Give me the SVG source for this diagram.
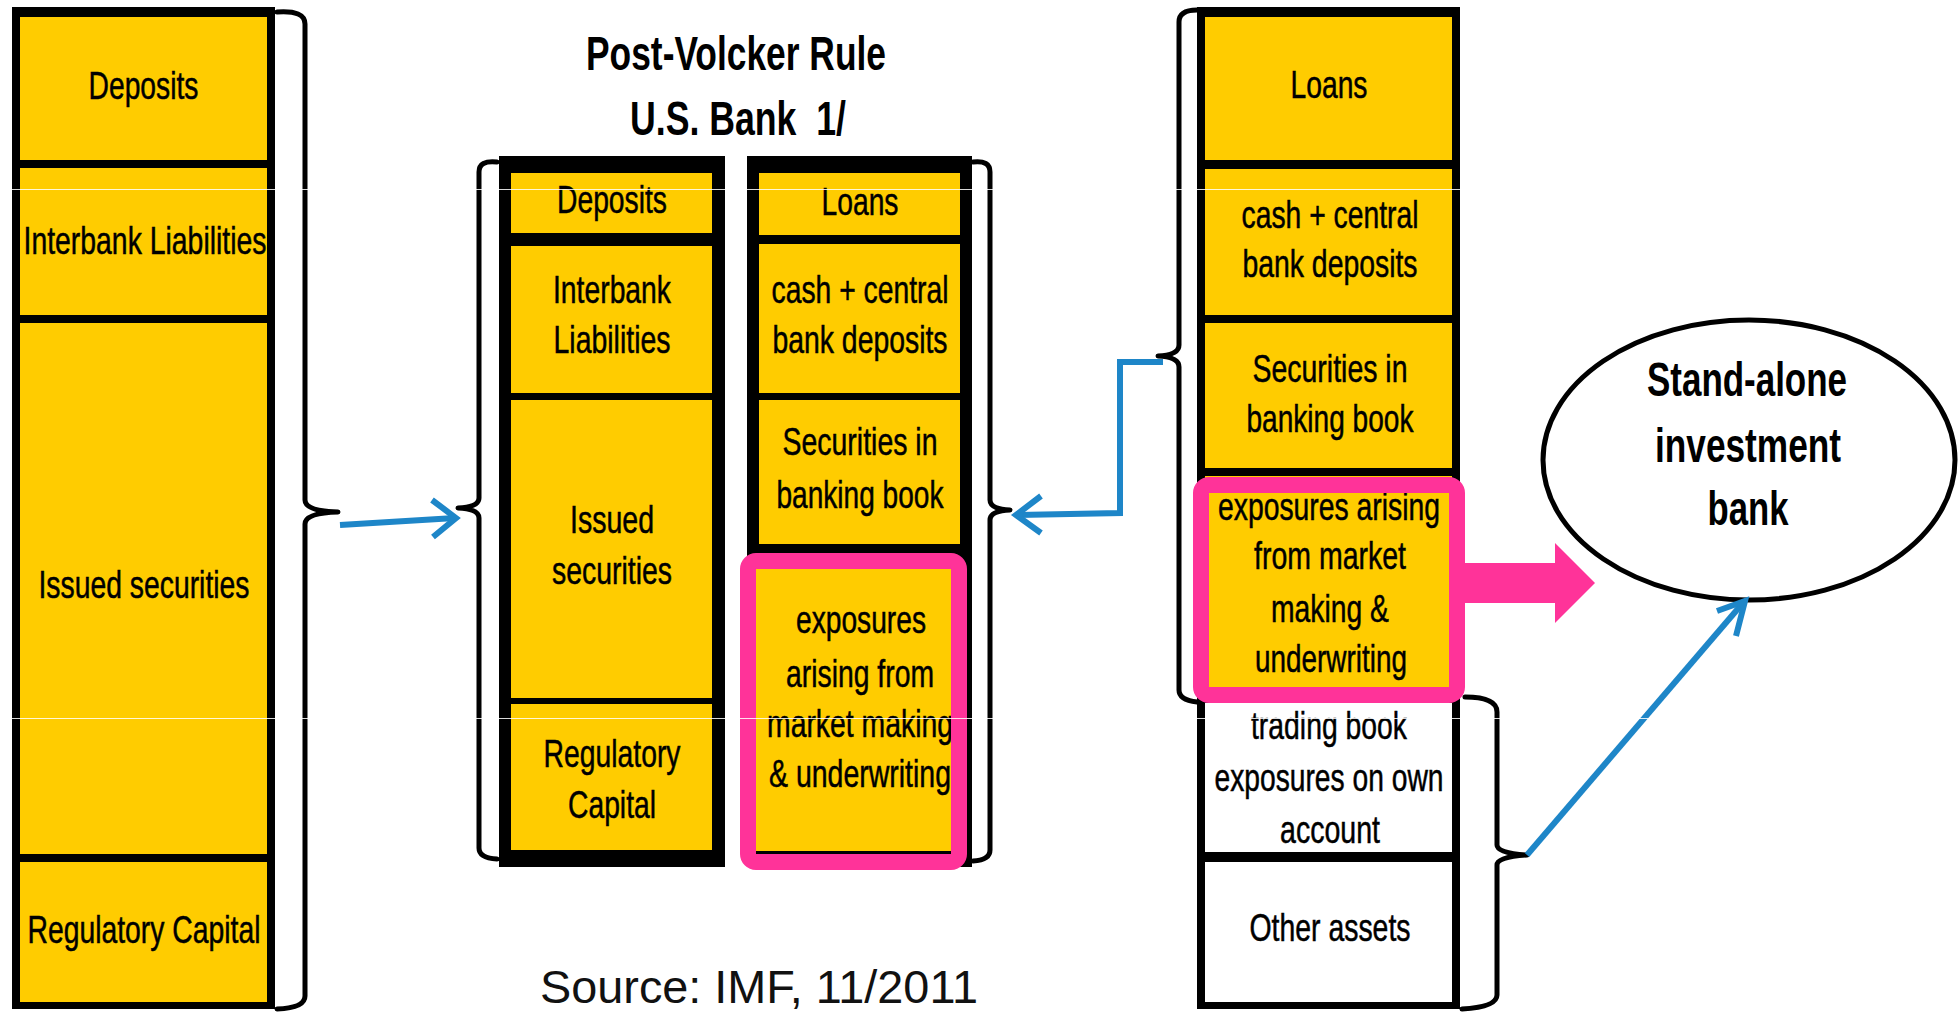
<svg xmlns="http://www.w3.org/2000/svg" width="1959" height="1012" viewBox="0 0 1959 1012">
  <style>
    .col { fill: #000; }
    .cell { fill: #ffcc00; }
    .wcell { fill: #ffffff; }
    .t { font-family: "Liberation Sans", Arial, sans-serif; font-size: 39px; fill: #000; stroke: #000; stroke-width: 0.5; text-anchor: middle; }
    .tb { font-family: "Liberation Sans", Arial, sans-serif; font-size: 48px; font-weight: bold; fill: #000; text-anchor: middle; }
    .src { font-family: "Liberation Sans", Arial, sans-serif; font-size: 46px; fill: #111; }
    .brace { fill: none; stroke: #000; stroke-width: 5; stroke-linecap: round; stroke-linejoin: round; }
    .blue { fill: none; stroke: #1e86c8; stroke-width: 6; stroke-linejoin: miter; }
    .pinkframe { fill: none; stroke: #ff3399; stroke-width: 16; }
    .seam { stroke: #ffffff; stroke-width: 1.2; opacity: 0.85; }
  </style>

  <rect width="1959" height="1012" fill="#ffffff"/>

  <!-- Pre-Volcker balance sheet: liabilities -->
  <g id="bank-liabilities">
    <rect class="col" x="12" y="7" width="263" height="1002"/>
    <rect class="cell" x="20" y="17" width="247" height="143"/>
    <rect class="cell" x="20" y="168" width="247" height="147"/>
    <rect class="cell" x="20" y="323" width="247" height="531"/>
    <rect class="cell" x="20" y="862" width="247" height="140"/>
    <text class="t" x="143.5" y="99" textLength="110" lengthAdjust="spacingAndGlyphs">Deposits</text>
    <text class="t" x="145" y="254" textLength="243" lengthAdjust="spacingAndGlyphs">Interbank Liabilities</text>
    <text class="t" x="144" y="598" textLength="211" lengthAdjust="spacingAndGlyphs">Issued securities</text>
    <text class="t" x="144" y="943" textLength="233" lengthAdjust="spacingAndGlyphs">Regulatory Capital</text>
  </g>

  <!-- Title -->
  <g id="title">
    <text class="tb" x="736" y="70" textLength="300" lengthAdjust="spacingAndGlyphs">Post-Volcker Rule</text>
    <text class="tb" x="738" y="135" textLength="216" lengthAdjust="spacingAndGlyphs">U.S. Bank&#160; 1/</text>
  </g>

  <!-- Post-Volcker bank: liabilities -->
  <g id="us-bank-liabilities">
    <rect class="col" x="499" y="156" width="226" height="711"/>
    <rect class="cell" x="511" y="173" width="201" height="60"/>
    <rect class="cell" x="511" y="246" width="201" height="147"/>
    <rect class="cell" x="511" y="400" width="201" height="298"/>
    <rect class="cell" x="511" y="704" width="201" height="146"/>
    <text class="t" x="612" y="213" textLength="110" lengthAdjust="spacingAndGlyphs">Deposits</text>
    <text class="t" x="612" y="303" textLength="118" lengthAdjust="spacingAndGlyphs">Interbank</text>
    <text class="t" x="612" y="353" textLength="117" lengthAdjust="spacingAndGlyphs">Liabilities</text>
    <text class="t" x="612" y="533" textLength="84" lengthAdjust="spacingAndGlyphs">Issued</text>
    <text class="t" x="612" y="584" textLength="120" lengthAdjust="spacingAndGlyphs">securities</text>
    <text class="t" x="612" y="767" textLength="137" lengthAdjust="spacingAndGlyphs">Regulatory</text>
    <text class="t" x="612" y="818" textLength="88" lengthAdjust="spacingAndGlyphs">Capital</text>
  </g>

  <!-- Post-Volcker bank: assets -->
  <g id="us-bank-assets">
    <rect class="col" x="747" y="156" width="225" height="711"/>
    <rect class="cell" x="759" y="173" width="201" height="62"/>
    <rect class="cell" x="759" y="244" width="201" height="149"/>
    <rect class="cell" x="759" y="400" width="201" height="144"/>
    <rect class="cell" x="756" y="569" width="195" height="282"/>
    <text class="t" x="860" y="215" textLength="77" lengthAdjust="spacingAndGlyphs">Loans</text>
    <text class="t" x="860" y="303" textLength="177" lengthAdjust="spacingAndGlyphs">cash + central</text>
    <text class="t" x="860" y="353" textLength="175" lengthAdjust="spacingAndGlyphs">bank deposits</text>
    <text class="t" x="860" y="455" textLength="155" lengthAdjust="spacingAndGlyphs">Securities in</text>
    <text class="t" x="860" y="508" textLength="167" lengthAdjust="spacingAndGlyphs">banking book</text>
    <text class="t" x="861" y="633" textLength="130" lengthAdjust="spacingAndGlyphs">exposures</text>
    <text class="t" x="860" y="687" textLength="148" lengthAdjust="spacingAndGlyphs">arising from</text>
    <text class="t" x="860" y="737" textLength="186" lengthAdjust="spacingAndGlyphs">market making</text>
    <text class="t" x="860" y="787" textLength="182" lengthAdjust="spacingAndGlyphs">&amp; underwriting</text>
    <rect class="pinkframe" x="748" y="561" width="211" height="301" rx="8"/>
  </g>

  <!-- Pre-Volcker balance sheet: assets -->
  <g id="bank-assets">
    <rect class="col" x="1197" y="7" width="263" height="1002"/>
    <rect class="cell" x="1205" y="17" width="247" height="143"/>
    <rect class="cell" x="1205" y="169" width="247" height="146"/>
    <rect class="cell" x="1205" y="323" width="247" height="145"/>
    <rect class="cell" x="1205" y="476" width="247" height="226"/>
    <rect class="wcell" x="1205" y="703" width="247" height="149"/>
    <rect class="wcell" x="1205" y="862" width="247" height="140"/>
    <text class="t" x="1329" y="98" textLength="77" lengthAdjust="spacingAndGlyphs">Loans</text>
    <text class="t" x="1330" y="228" textLength="177" lengthAdjust="spacingAndGlyphs">cash + central</text>
    <text class="t" x="1330" y="277" textLength="175" lengthAdjust="spacingAndGlyphs">bank deposits</text>
    <text class="t" x="1330" y="382" textLength="155" lengthAdjust="spacingAndGlyphs">Securities in</text>
    <text class="t" x="1330" y="432" textLength="167" lengthAdjust="spacingAndGlyphs">banking book</text>
    <text class="t" x="1329" y="520" textLength="222" lengthAdjust="spacingAndGlyphs">exposures arising</text>
    <text class="t" x="1330" y="569" textLength="152" lengthAdjust="spacingAndGlyphs">from market</text>
    <text class="t" x="1330" y="622" textLength="118" lengthAdjust="spacingAndGlyphs">making &amp;</text>
    <text class="t" x="1331" y="672" textLength="152" lengthAdjust="spacingAndGlyphs">underwriting</text>
    <rect class="pinkframe" x="1201" y="485" width="256" height="210" rx="8"/>
    <text class="t" x="1329" y="739" textLength="156" lengthAdjust="spacingAndGlyphs">trading book</text>
    <text class="t" x="1329" y="791" textLength="229" lengthAdjust="spacingAndGlyphs">exposures on own</text>
    <text class="t" x="1330" y="843" textLength="100" lengthAdjust="spacingAndGlyphs">account</text>
    <text class="t" x="1330" y="941" textLength="161" lengthAdjust="spacingAndGlyphs">Other assets</text>
  </g>

  <!-- Stand-alone investment bank -->
  <g id="investment-bank">
    <ellipse cx="1749" cy="460" rx="206" ry="140" fill="#ffffff" stroke="#000" stroke-width="5"/>
    <text class="tb" x="1747" y="396" textLength="200" lengthAdjust="spacingAndGlyphs">Stand-alone</text>
    <text class="tb" x="1748" y="462" textLength="186" lengthAdjust="spacingAndGlyphs">investment</text>
    <text class="tb" x="1748" y="525" textLength="81" lengthAdjust="spacingAndGlyphs">bank</text>
  </g>

  <!-- Braces, arrows and the spin-off arrow -->
  <g id="connectors">
    <path class="brace" d="M277,12 Q305,10 305,24 V500 Q305,511 338,512 Q305,513 305,524 V996 Q305,1008 277,1009"/>
    <path class="brace" d="M497,162 Q479,160 479,172 V498 Q479,507 458,508 Q479,509 479,518 V848 Q479,858 497,859"/>
    <path class="brace" d="M973,162 Q990,160 990,172 V500 Q990,509 1010,510 Q990,511 990,520 V850 Q990,860 973,861"/>
    <path class="brace" d="M1197,10 Q1179,10 1179,22 V345 Q1179,355 1158,356 Q1179,357 1179,367 V690 Q1179,700 1197,702"/>
    <path class="brace" d="M1465,697 Q1497,697 1497,712 V845 Q1497,853 1527,855 Q1497,857 1497,865 V995 Q1497,1007 1462,1009"/>

    <line class="blue" x1="340" y1="525" x2="455" y2="518"/>
    <polyline class="blue" points="432,500 456,518 433,537"/>

    <polyline class="blue" points="1163,362 1120,362 1120,513 1018,515"/>
    <polyline class="blue" points="1041,496 1016,515 1041,533"/>

    <line class="blue" x1="1527" y1="855" x2="1742" y2="604"/>
    <polyline class="blue" points="1717,611 1745,601 1736,636"/>

    <polygon fill="#ff3399" points="1465,563 1555,563 1555,543 1595,583 1555,623 1555,603 1465,603"/>
  </g>

  <text class="src" x="540" y="1003" textLength="438" lengthAdjust="spacingAndGlyphs">Source: IMF, 11/2011</text>

  <!-- faint horizontal seams -->
  <line class="seam" x1="0" y1="189.5" x2="1959" y2="189.5"/>
  <line class="seam" x1="0" y1="718.5" x2="1959" y2="718.5"/>
</svg>
